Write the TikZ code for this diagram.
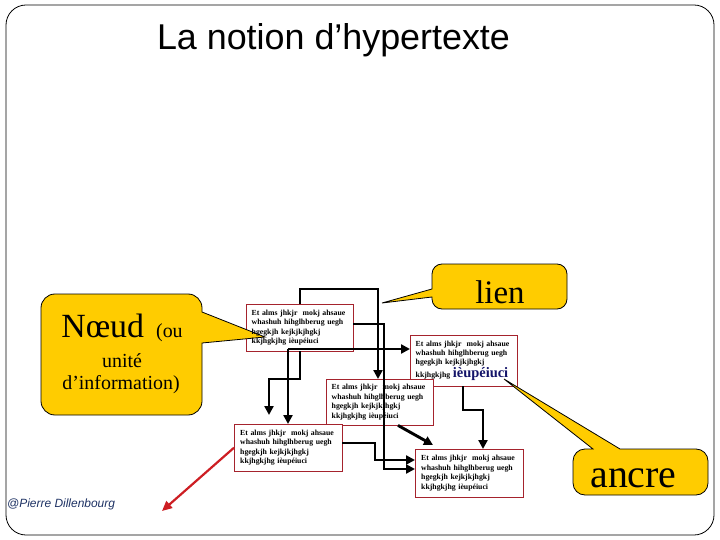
\documentclass[tikz,border=0pt]{standalone}
\usepackage{fontspec}
\setmainfont{Liberation Serif}
\newfontfamily\sansfam{Liberation Sans}
\usetikzlibrary{arrows.meta}
\definecolor{calloutyellow}{RGB}{255,204,0}
\definecolor{boxred}{RGB}{165,35,45}
\definecolor{anchorblue}{RGB}{20,20,105}
\definecolor{authorblue}{RGB}{30,50,100}
\definecolor{redlinkcol}{RGB}{205,30,35}
\pgfdeclarelayer{bg}
\pgfdeclarelayer{mid}
\pgfsetlayers{bg,mid,main}
\tikzset{
  boxtext/.style={anchor=north west, draw=none, fill=none, minimum width=107bp,
    minimum height=47bp, text width=96bp, inner xsep=5.5bp, inner ysep=2bp, align=left,
    font=\bfseries\fontsize{7.8}{9.5}\selectfont},
  boxframe/.style={draw=boxred, fill=white, line width=0.9bp},
  callout/.style={fill=calloutyellow, draw=black, line width=0.8bp, line join=miter},
  link/.style={draw=black, line width=2.9bp, -{Triangle[length=9bp,width=9bp]}},
  redlink/.style={draw=redlinkcol, line width=2.2bp, -{Triangle[length=10bp,width=9bp]}},
}
\begin{document}
\begin{tikzpicture}[x=1bp,y=-1bp]
\useasboundingbox (0,0) rectangle (720,540);
% frame
\draw[line width=0.8bp, rounded corners=20bp] (6,5) rectangle (714,535);
% title
\node[font=\sansfam\fontsize{36}{40}\selectfont, anchor=base, inner sep=0] (title) at (333.5,50) {La notion d’hypertexte};

% boxes (text on main layer, frames on bg layer)
\node[boxtext] (A) at (246,304) {Et alms jhkjr\ \ mokj ahsaue\\ whashuh hihglhberug uegh\\ hgegkjh kejkjkjhgkj\\ kkjhgkjhg ièupéiuci};
\node[boxtext, minimum height=51bp] (B) at (410,335) {Et alms jhkjr\ \ mokj ahsaue\\ whashuh hihglhberug uegh\\ hgegkjh kejkjkjhgkj\\ kkjhgkjhg {\color{anchorblue}\fontsize{14.5}{15}\selectfont ièupéiuci}};
\node[boxtext, minimum width=106bp, minimum height=46bp] (C) at (326,379) {Et alms jhkjr\ \ mokj ahsaue\\ whashuh hihglhberug uegh\\ hgegkjh kejkjkjhgkj\\ kkjhgkjhg ièupéiuci};
\node[boxtext, minimum width=108bp] (D) at (234,424) {Et alms jhkjr\ \ mokj ahsaue\\ whashuh hihglhberug uegh\\ hgegkjh kejkjkjhgkj\\ kkjhgkjhg ièupéiuci};
\node[boxtext, minimum width=108bp, minimum height=48bp] (E) at (415,449) {Et alms jhkjr\ \ mokj ahsaue\\ whashuh hihglhberug uegh\\ hgegkjh kejkjkjhgkj\\ kkjhgkjhg ièupéiuci};
\begin{pgfonlayer}{bg}
  \foreach \n in {A,B,C,D,E}
    \filldraw[boxframe] (\n.north west) rectangle (\n.south east);
\end{pgfonlayer}

% callouts
\begin{pgfonlayer}{mid}
  % Noeud
  \path[callout] (55,294) -- (188,294) arc[start angle=270,end angle=360,radius=14]
    -- (202,312) -- (265,337) -- (202,343)
    -- (202,401) arc[start angle=0,end angle=90,radius=14]
    -- (55,415) arc[start angle=90,end angle=180,radius=14]
    -- (41,308) arc[start angle=180,end angle=270,radius=14] -- cycle;
  % lien
  \path[callout] (442,264) -- (557,264) arc[start angle=270,end angle=360,radius=10]
    -- (567,299) arc[start angle=0,end angle=90,radius=10]
    -- (442,309) arc[start angle=90,end angle=180,radius=10]
    -- (432,297) -- (382,303) -- (432,289)
    -- (432,274) arc[start angle=180,end angle=270,radius=10] -- cycle;
  % ancre
  \path[callout] (585,449) -- (593,449) -- (504,379) -- (620,449)
    -- (696,449) arc[start angle=270,end angle=360,radius=12]
    -- (708,483) arc[start angle=0,end angle=90,radius=12]
    -- (585,495) arc[start angle=90,end angle=180,radius=12]
    -- (573,461) arc[start angle=180,end angle=270,radius=12] -- cycle;
\end{pgfonlayer}

% callout texts
\node[anchor=base, inner sep=0] (noeud1) at (122,337)
  {{\fontsize{34}{40}\selectfont Nœud}\hspace{12bp}{\fontsize{20}{24}\selectfont(ou}};
\node[anchor=base, inner sep=0, font=\fontsize{20}{24}\selectfont] (noeud2) at (122,367) {unité};
\node[anchor=base, inner sep=0, font=\fontsize{20}{24}\selectfont] (noeud3) at (121,389) {d’information)};
\node[anchor=base, inner sep=0, font=\fontsize{33}{36}\selectfont] (lienT) at (500,303) {lien};
\node[anchor=base, inner sep=0, font=\fontsize{40}{44}\selectfont] (ancreT) at (633.5,487) {ancre};

% author
\node[anchor=base west, inner sep=0, font=\sansfam\itshape\fontsize{12}{14}\selectfont, text=authorblue] (author) at (7,507) {@Pierre Dillenbourg};

% helper coordinates for connector routes
\coordinate (k1) at (300,289);
\coordinate (k2) at (378,289);
\coordinate (k3) at (300,379);
\coordinate (k4) at (269,379);
\coordinate (k5) at (269,415);
\coordinate (k6) at (288,349);
\coordinate (k7) at (384,324);
\coordinate (k8) at (384,469);
\coordinate (k9) at (398,425);
\coordinate (k10) at (433,445);
\coordinate (k11) at (375,443);
\coordinate (k12) at (375,460);
\coordinate (k13) at (463,410);
\coordinate (k14) at (483,410);
\coordinate (k15) at (162,511);

% connectors
\draw[link] (A.north -| k1) -- (k1) -- (k2) -- (C.north -| k2);
\draw[link] (A.south -| k3) -- (k3) -- (k4) -- (k5);
\draw[link] (k6) -- (D.north -| k6);
\draw[link] (k6) -- (B.west |- k6);
\draw[link] (A.east |- k7) -- (k7) -- (k8) -- (E.west |- k8);
\draw[link] (C.south -| k9) -- (k10);
\draw[link] (D.east |- k11) -- (k11) -- (k12) -- (E.west |- k12);
\draw[link] (B.south -| k13) -- (k13) -- (k14) -- (E.north -| k14);
\draw[redlink] (D.west) -- (k15);
\end{tikzpicture}
\end{document}
